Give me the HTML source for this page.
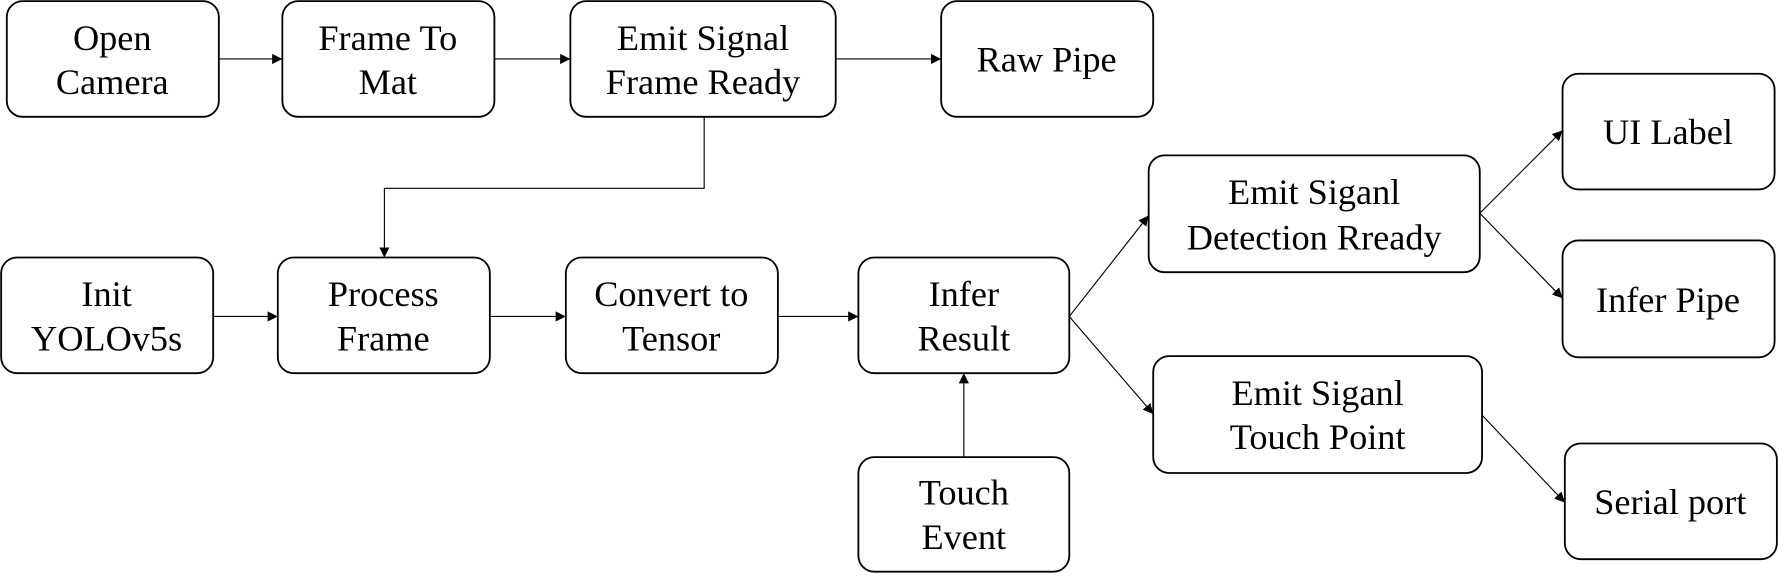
<!DOCTYPE html>
<html><head><style>html,body{margin:0;padding:0;background:#fff;}svg{display:block}</style></head>
<body>
<svg width="1778" height="583" viewBox="0 0 1568 514" preserveAspectRatio="none" xmlns="http://www.w3.org/2000/svg">
<defs><marker id="a" viewBox="0 0 10 10" refX="10" refY="5" markerWidth="9" markerHeight="9" markerUnits="userSpaceOnUse" orient="auto"><path d="M0,0L10,5L0,10z" fill="#000"/></marker></defs>
<g fill="#fff" stroke="#000" stroke-width="1.6">
<rect x="6" y="1" width="187" height="102" rx="14"/>
<rect x="249" y="1" width="187" height="102" rx="14"/>
<rect x="503" y="1" width="234" height="102" rx="14"/>
<rect x="830" y="1" width="187" height="102" rx="14"/>
<rect x="1" y="227" width="187" height="102" rx="14"/>
<rect x="245" y="227" width="187" height="102" rx="14"/>
<rect x="499" y="227" width="187" height="102" rx="14"/>
<rect x="757" y="227" width="186" height="102" rx="14"/>
<rect x="757" y="403" width="186" height="101" rx="14"/>
<rect x="1013" y="137" width="292" height="103" rx="14"/>
<rect x="1017" y="314" width="290" height="103" rx="14"/>
<rect x="1378" y="65" width="187" height="102" rx="14"/>
<rect x="1378" y="212" width="187" height="103" rx="14"/>
<rect x="1380" y="391" width="187" height="102" rx="14"/>
</g>
<g fill="none" stroke="#000" stroke-width="1" marker-end="url(#a)">
<path d="M193,52H249"/>
<path d="M436,52H503"/>
<path d="M737,52H830"/>
<path d="M621,103V166H339V227"/>
<path d="M188,279H245"/>
<path d="M432,279H499"/>
<path d="M686,279H757"/>
<path d="M850,403V329"/>
<path d="M943,279L1013,190"/>
<path d="M943,279L1017,365"/>
<path d="M1305,188L1378,115"/>
<path d="M1305,188L1378,263"/>
<path d="M1307,366L1380,443"/>
</g>
<g font-family="Liberation Serif, serif" font-size="32" text-anchor="middle" fill="#000">
<text x="99" y="44">Open</text><text x="99" y="83">Camera</text>
<text x="342" y="44">Frame To</text><text x="342" y="83">Mat</text>
<text x="620" y="44">Emit Signal</text><text x="620" y="83">Frame Ready</text>
<text x="923" y="63">Raw Pipe</text>
<text x="94" y="270">Init</text><text x="94" y="309">YOLOv5s</text>
<text x="338" y="270">Process</text><text x="338" y="309">Frame</text>
<text x="592" y="270">Convert to</text><text x="592" y="309">Tensor</text>
<text x="850" y="270">Infer</text><text x="850" y="309">Result</text>
<text x="850" y="445">Touch</text><text x="850" y="484">Event</text>
<text x="1159" y="180">Emit Siganl</text><text x="1159" y="220">Detection Rready</text>
<text x="1162" y="357">Emit Siganl</text><text x="1162" y="396">Touch Point</text>
<text x="1471" y="127">UI Label</text>
<text x="1471" y="275">Infer Pipe</text>
<text x="1473" y="453">Serial port</text>
</g>
</svg>
</body></html>
